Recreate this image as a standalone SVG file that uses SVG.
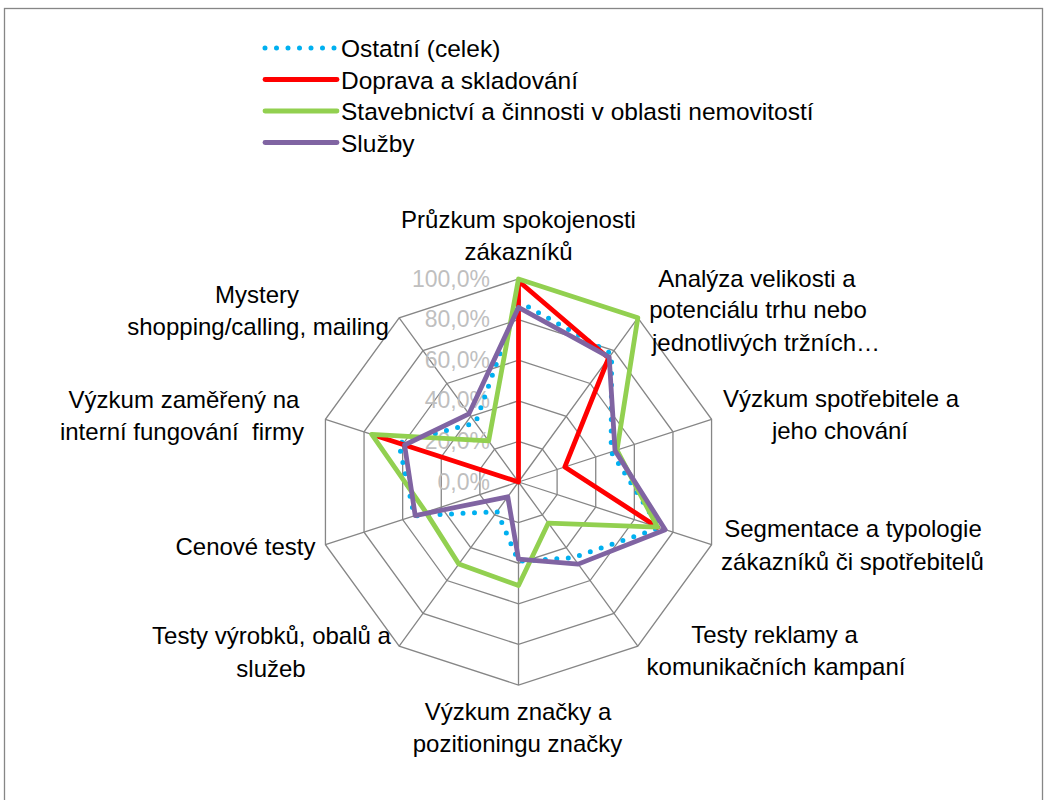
<svg xmlns="http://www.w3.org/2000/svg" width="1045" height="800" viewBox="0 0 1045 800">
<style>
text{font-family:"Liberation Sans",Arial,sans-serif;font-size:24px;fill:#000}
.lab{text-anchor:middle}
.leg{font-size:24.5px}
.pct{font-size:23px;fill:#BFBFBF;text-anchor:end}
.grid{fill:none;stroke:#868686;stroke-width:1.3}
.s{fill:none;stroke-width:4.8;stroke-linejoin:round;stroke-linecap:round}
.ost{stroke:#00B0F0;stroke-dasharray:0 11.5;stroke-width:5}
.dop{stroke:#FF0000}
.sta{stroke:#92D050}
.slu{stroke:#8064A2}
</style>
<rect x="0" y="0" width="1045" height="800" fill="#fff"/>
<rect x="4.5" y="8.5" width="1038" height="800" fill="none" stroke="#868686" stroke-width="1.3"/>
<g id="grid" class="grid">
<polygon points="518.5,279 637.82,317.77 711.56,419.27 711.56,544.73 637.82,646.23 518.5,685 399.18,646.23 325.44,544.73 325.44,419.27 399.18,317.77"/>
<polygon points="518.5,319.6 613.96,350.62 672.95,431.82 672.95,532.18 613.96,613.38 518.5,644.4 423.04,613.38 364.05,532.18 364.05,431.82 423.04,350.62"/>
<polygon points="518.5,360.2 590.09,383.46 634.34,444.36 634.34,519.64 590.09,580.54 518.5,603.8 446.91,580.54 402.66,519.64 402.66,444.36 446.91,383.46"/>
<polygon points="518.5,400.8 566.23,416.31 595.73,456.91 595.73,507.09 566.23,547.69 518.5,563.2 470.77,547.69 441.27,507.09 441.27,456.91 470.77,416.31"/>
<polygon points="518.5,441.4 542.36,449.15 557.11,469.45 557.11,494.55 542.36,514.85 518.5,522.6 494.64,514.85 479.89,494.55 479.89,469.45 494.64,449.15"/>
<path d="M518.5,482L518.5,279M518.5,482L637.82,317.77M518.5,482L711.56,419.27M518.5,482L711.56,544.73M518.5,482L637.82,646.23M518.5,482L518.5,685M518.5,482L399.18,646.23M518.5,482L325.44,544.73M518.5,482L325.44,419.27M518.5,482L399.18,317.77"/>
</g>
<g id="axis-values">
<text class="pct" x="490" y="287">100,0%</text>
<text class="pct" x="490" y="327">80,0%</text>
<text class="pct" x="490" y="368">60,0%</text>
<text class="pct" x="490" y="408">40,0%</text>
<text class="pct" x="490" y="449">20,0%</text>
<text class="pct" x="490" y="490">0,0%</text>
</g>
<g id="connectors">
<polygon id="series-ostatni" class="s ost" points="518.5,301.33 611.57,353.9 611.17,451.89 659.44,527.79 573.39,557.55 518.5,561.17 497.02,511.56 414.24,515.87 398.8,443.11 475.54,422.88"/>
<polyline id="series-doprava" class="s dop" points="377.56,436.21 518.5,482 518.5,281.03 608.59,358 564.84,466.94 657.51,527.17"/>
<polygon id="series-stavebnictvi" class="s sta" points="518.5,279 637.82,317.77 616.96,450.01 657.51,527.17 548.33,523.06 518.5,585.53 458.84,564.11 425.83,512.11 371.77,434.32 488.67,440.94"/>
<polygon id="series-sluzby" class="s slu" points="518.5,307.42 609.18,357.18 615.03,450.63 665.23,529.68 578.16,564.11 518.5,559.14 507.76,496.78 415.21,515.56 404.59,444.99 468.98,413.84"/>
</g>
<g id="label-pruzkum" class="lab"><text x="518.5" y="228">Průzkum spokojenosti</text><text x="518.5" y="260">zákazníků</text></g>
<g id="label-analyza" class="lab"><text x="757" y="287">Analýza velikosti a</text><text x="758" y="318">potenciálu trhu nebo</text><text x="766" y="351">jednotlivých tržních…</text></g>
<g id="label-vyzkum-spotrebitele" class="lab"><text x="841" y="407">Výzkum spotřebitele a</text><text x="840" y="439">jeho chování</text></g>
<g id="label-segmentace" class="lab"><text x="853" y="537">Segmentace a typologie</text><text x="852.5" y="570">zákazníků či spotřebitelů</text></g>
<g id="label-testy-reklamy" class="lab"><text x="774.5" y="643">Testy reklamy a</text><text x="776" y="675">komunikačních kampaní</text></g>
<g id="label-vyzkum-znacky" class="lab"><text x="518" y="720">Výzkum značky a</text><text x="517.5" y="752">pozitioningu značky</text></g>
<g id="label-testy-vyrobku" class="lab"><text x="271.5" y="644">Testy výrobků, obalů a</text><text x="271" y="677">služeb</text></g>
<g id="label-cenove-testy" class="lab"><text x="245.5" y="555">Cenové testy</text></g>
<g id="label-vyzkum-interni" class="lab"><text x="184" y="408">Výzkum zaměřený na</text><text x="182" y="440" xml:space="preserve">interní fungování  firmy</text></g>
<g id="label-mystery" class="lab"><text x="257" y="303">Mystery</text><text x="258" y="335">shopping/calling, mailing</text></g>
<g id="legend">
<line x1="265" y1="48" x2="337" y2="48" class="s ost" stroke-dasharray="0 14.4"/>
<text class="leg" x="341" y="57">Ostatní (celek)</text>
<line x1="265" y1="79.5" x2="337" y2="79.5" class="s dop"/>
<text class="leg" x="341" y="88.5">Doprava a skladování</text>
<line x1="265" y1="111" x2="337" y2="111" class="s sta"/>
<text class="leg" x="341" y="120">Stavebnictví a činnosti v oblasti nemovitostí</text>
<line x1="265" y1="142.5" x2="337" y2="142.5" class="s slu"/>
<text class="leg" x="341" y="151.5">Služby</text>
</g>
</svg>
